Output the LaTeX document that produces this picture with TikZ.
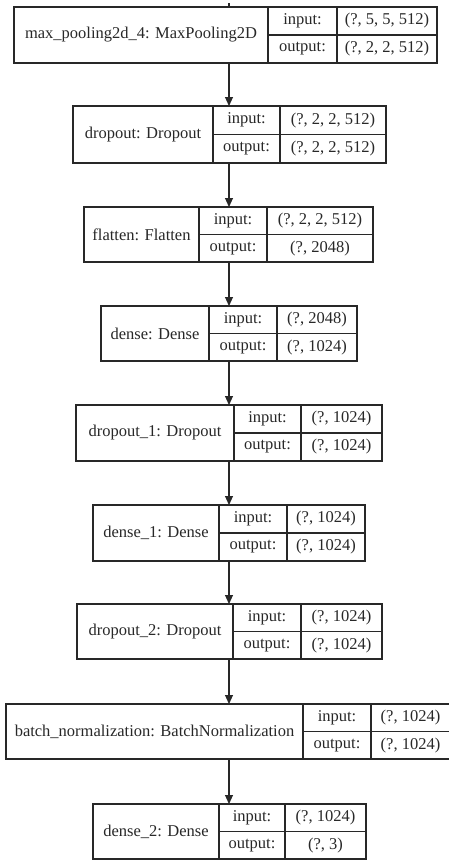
\documentclass[tikz,border=0pt]{standalone}
\usepackage{fontspec}
\setmainfont{Liberation Serif}
\usetikzlibrary{arrows.meta}
\definecolor{ink}{RGB}{40,40,40}
\tikzset{
  outerbox/.style={draw=ink, line width=1.1pt, outer sep=0pt, inner sep=0pt, rectangle},
  txt/.style={inner sep=0pt, outer sep=0pt, text=ink, font=\fontsize{16.5}{19}\selectfont},
  sepline/.style={draw=ink, line width=1.1pt},
  arr/.style={draw=ink, line width=1.1pt, -{Triangle[length=9pt,width=8pt]}}
}
\newcommand{\setgeom}[6]{\def\gL{#1}\def\gA{#2}\def\gC{#3}\def\gR{#4}\def\gT{#5}\def\gB{#6}}
\newcommand{\layer}[4]{%
  \pgfmathsetmacro\gM{(\gT+\gB)/2}%
  \pgfmathsetmacro\gW{\gR-\gL}%
  \pgfmathsetmacro\gH{\gB-\gT}%
  \node[outerbox, minimum width=\gW pt, minimum height=\gH pt, anchor=north west] (#1) at (\gL,\gT) {};
  \draw[sepline] (\gA,\gT) -- (\gA,\gB) (\gC,\gT) -- (\gC,\gB) (\gA,\gM) -- (\gR,\gM);
  \node[txt] (#1-t) at ({(\gL+\gA)/2},\gM) {#2};
  \node[txt] (#1-il) at ({(\gA+\gC)/2},{(\gT+\gM)/2}) {input:};
  \node[txt] (#1-ol) at ({(\gA+\gC)/2},{(\gM+\gB)/2}) {output:};
  \node[txt] (#1-iv) at ({(\gC+\gR)/2},{(\gT+\gM)/2}) {#3};
  \node[txt] (#1-ov) at ({(\gC+\gR)/2},{(\gM+\gB)/2}) {#4};
}
\begin{document}
\begin{tikzpicture}[x=1pt,y=-1pt]
\useasboundingbox[fill=white] (0,0) rectangle (448,860);
\coordinate (axis) at (229,0);
\coordinate (stub) at (229,3);
\setgeom{14}{268}{337}{437}{7}{63}
\layer{L1}{max\_pooling2d\_4: MaxPooling2D}{(?, 5, 5, 512)}{(?, 2, 2, 512)}
\setgeom{73}{213}{280}{386}{106}{163}
\layer{L2}{dropout: Dropout}{(?, 2, 2, 512)}{(?, 2, 2, 512)}
\setgeom{84}{199}{267}{373}{207}{262}
\layer{L3}{flatten: Flatten}{(?, 2, 2, 512)}{(?, 2048)}
\setgeom{101}{209}{277}{357}{306}{361}
\layer{L4}{dense: Dense}{(?, 2048)}{(?, 1024)}
\setgeom{76}{234}{301}{382}{405}{461}
\layer{L5}{dropout\_1: Dropout}{(?, 1024)}{(?, 1024)}
\setgeom{93}{219}{287}{365}{505}{561}
\layer{L6}{dense\_1: Dense}{(?, 1024)}{(?, 1024)}
\setgeom{77}{233}{301}{382}{604}{659}
\layer{L7}{dropout\_2: Dropout}{(?, 1024)}{(?, 1024)}
\setgeom{6}{303}{371}{450}{704}{759}
\layer{L8}{batch\_normalization: BatchNormalization}{(?, 1024)}{(?, 1024)}
\setgeom{93}{219}{285}{366}{804}{859}
\layer{L9}{dense\_2: Dense}{(?, 1024)}{(?, 3)}
\draw[sepline] (stub) -- (L1.north -| axis);
\foreach \a/\b in {L1/L2,L2/L3,L3/L4,L4/L5,L5/L6,L6/L7,L7/L8,L8/L9}
  \draw[arr] (\a.south -| axis) -- (\b.north -| axis);
\end{tikzpicture}
\end{document}
